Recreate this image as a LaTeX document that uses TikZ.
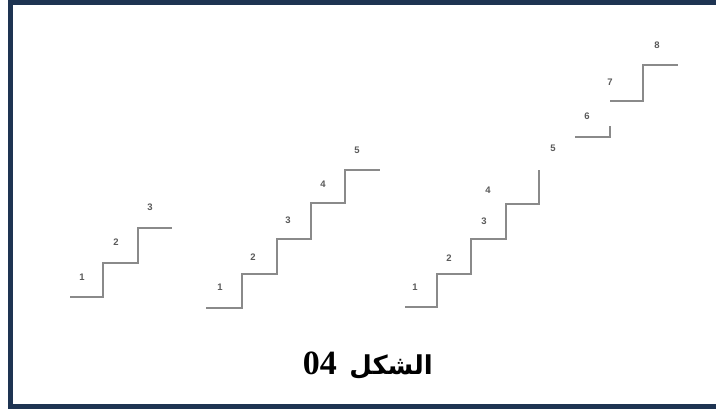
\documentclass[tikz,border=0pt]{standalone}
\usepackage{fontspec}
\usepackage{tikz}
\usetikzlibrary{positioning}
\TeXXeTstate=1
\newfontfamily\arabicfont[Script=Arabic]{DejaVu Sans}
\newfontfamily\numfont{Liberation Serif}
\newfontfamily\labfont{Liberation Sans}
\definecolor{frame}{HTML}{1E3452}
\definecolor{tread}{HTML}{8A8A8A}
\definecolor{tag}{HTML}{5A5A5A}
\begin{document}
\begin{tikzpicture}[x=1pt,y=-1pt,
 stair/.style={draw=tread,line width=1.9pt,line join=miter},
 num/.style={font=\labfont\bfseries\fontsize{9.5}{10}\selectfont,text=tag,inner sep=0pt},
 captext/.style={font=\bfseries,inner sep=0pt,anchor=base east}]
\useasboundingbox (0,0) rectangle (716,412);
\draw[frame,line width=5pt] (10.5,2.5) rectangle (722,406.5);
% three steps
\draw[stair] (70,297)--(103,297)--(103,263)--(138,263)--(138,228)--(172,228);
\foreach \n/\x/\y in {1/82/277,2/116/242,3/150/207}{\node[num](a\n) at (\x,\y){\n};}
% five steps
\draw[stair] (206,308)--(242,308)--(242,274)--(277,274)--(277,239)--(311,239)--(311,203)--(345,203)--(345,170)--(380,170);
\foreach \n/\x/\y in {1/220/287,2/253/257,3/288/220,4/323/184,5/357/150}{\node[num](b\n) at (\x,\y){\n};}
% broken flight
\draw[stair] (405,307)--(437,307)--(437,274)--(471,274)--(471,239)--(506,239)--(506,204)--(539,204)--(539,170);
\draw[stair] (575,137)--(610,137)--(610,126);
\draw[stair] (610,101)--(643,101)--(643,65)--(678,65);
\foreach \n/\x/\y in {1/415/287,2/449/258,3/484/221,4/488/190,5/553/148,6/587/116,7/610/82,8/657/45}{\node[num](c\n) at (\x,\y){\n};}
\node[captext](word) at (433,374){\arabicfont\fontsize{26}{30}\selectfont\beginR الشكل\endR};
\node[captext](fig) at ([xshift=-12pt]word.base west){\numfont\fontsize{34}{38}\selectfont 04};
\end{tikzpicture}
\end{document}
